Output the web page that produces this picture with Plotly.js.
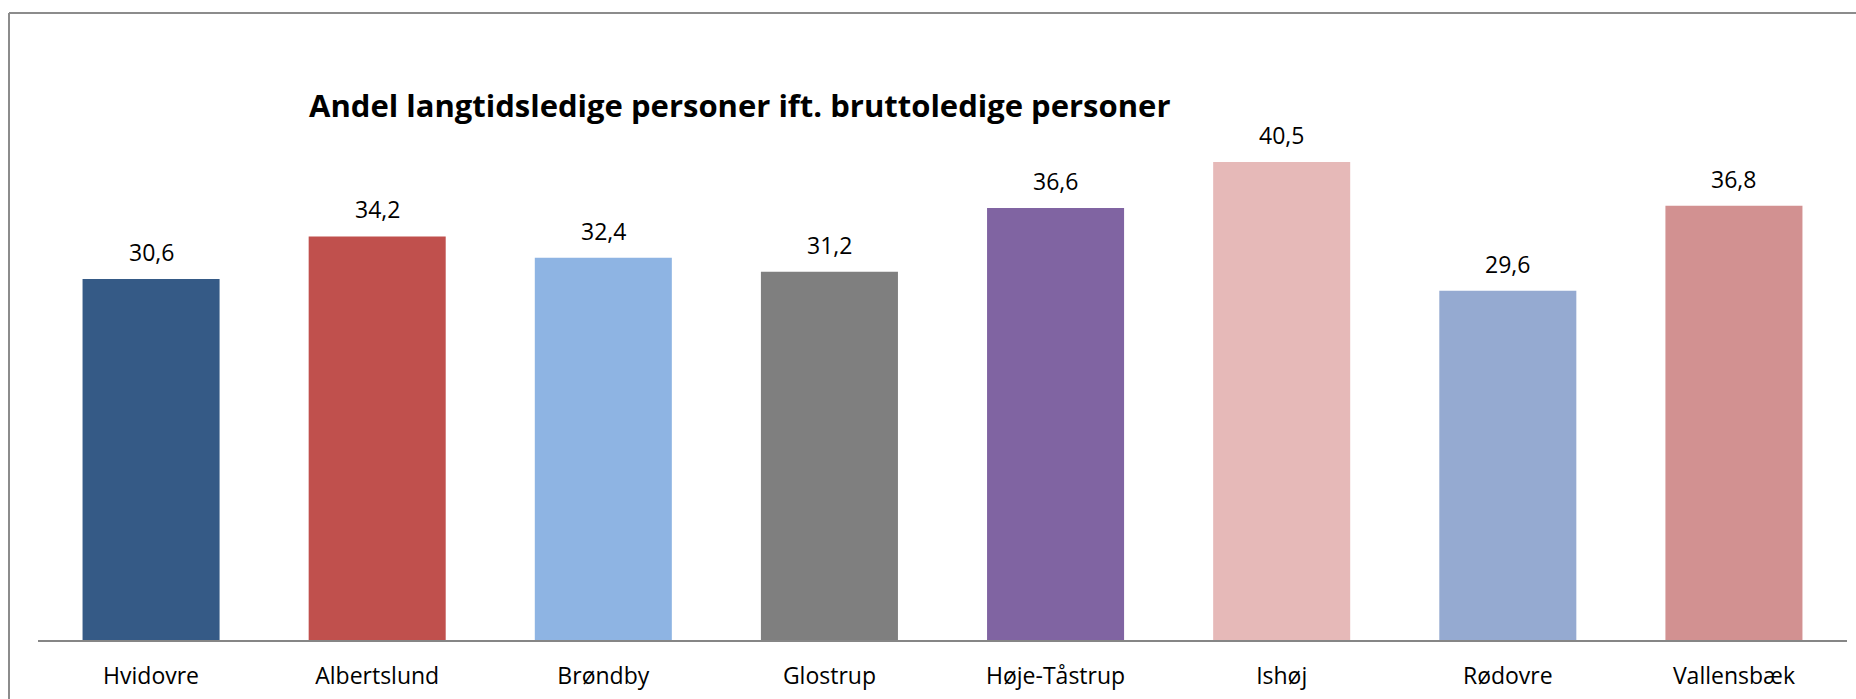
<!DOCTYPE html>
<html>
<head>
<meta charset="utf-8">
<script src="https://cdn.plot.ly/plotly-3.0.1.min.js"></script>
<style>
  html, body { margin: 0; padding: 0; background: #ffffff; }
  #chart { width: 1856px; height: 699px; }
</style>
</head>
<body>
<div id="chart"></div>
<script>
// Data
const categories = ["Hvidovre", "Albertslund", "Brøndby", "Glostrup", "Høje-Tåstrup", "Ishøj", "Rødovre", "Vallensbæk"];
const values = [30.6, 34.2, 32.4, 31.2, 36.6, 40.5, 29.6, 36.8];
const valueLabels = ["30,6", "34,2", "32,4", "31,2", "36,6", "40,5", "29,6", "36,8"];
const barColors = ["#355A86", "#C0504D", "#8EB4E3", "#7F7F7F", "#8064A2", "#E6B9B8", "#95AAD1", "#D29191"];
const chartTitle = "Andel langtidsledige personer ift. bruttoledige personer";

// Layout geometry (pixels)
const W = 1856, H = 699;
const yMax = 45;
const ppu = 11.8;
const axisY = 640;
const mL = 38, mR = 9, mB = H - axisY;
const mT = axisY - yMax * ppu;
const plotW = W - mL - mR, plotH = H - mT - mB;
const px2paperX = p => (p - mL) / plotW;
const px2paperY = p => (axisY - p) / plotH;

const FONT = "Open Sans, Noto Sans, sans-serif";

const trace = {
  type: "bar",
  x: categories,
  y: values,
  marker: { color: barColors, line: { width: 0 } },
  hoverinfo: "x+y",
  showlegend: false
};

const annotations = categories.map((c, i) => ({
  x: c, y: values[i], xref: "x", yref: "y",
  text: valueLabels[i],
  showarrow: false,
  yanchor: "bottom",
  yshift: 9,
  font: { family: FONT, size: 23, color: "#000000" }
}));

const borderColor = "#8C8C8C";
const shapes = [
  { type: "line", xref: "paper", yref: "paper",
    x0: px2paperX(9), x1: px2paperX(9), y0: px2paperY(13), y1: px2paperY(H + 5),
    line: { color: borderColor, width: 2 } },
  { type: "line", xref: "paper", yref: "paper",
    x0: px2paperX(9), x1: px2paperX(W + 5), y0: px2paperY(13), y1: px2paperY(13),
    line: { color: borderColor, width: 2 } }
];

const layout = {
  width: W, height: H,
  margin: { l: mL, r: mR, t: mT, b: mB, pad: 0 },
  paper_bgcolor: "#ffffff",
  plot_bgcolor: "#ffffff",
  title: {
    text: "<b>" + chartTitle + "</b>",
    xref: "container", yref: "container",
    x: 309 / W, xanchor: "left",
    y: 1 - 106 / H, yanchor: "middle",
    font: { family: FONT, size: 31, color: "#000000" }
  },
  bargap: 0.394,
  xaxis: {
    type: "category",
    showline: true, linecolor: "#868686", linewidth: 2,
    showgrid: false, zeroline: false,
    ticks: "", ticklabelstandoff: 14,
    tickfont: { family: FONT, size: 23, color: "#000000" },
    fixedrange: true
  },
  yaxis: {
    range: [0, yMax],
    visible: false,
    showgrid: false, zeroline: false,
    fixedrange: true
  },
  annotations: annotations,
  shapes: shapes,
  font: { family: FONT }
};

Plotly.newPlot("chart", [trace], layout, { displayModeBar: false, staticPlot: true });
</script>
</body>
</html>
